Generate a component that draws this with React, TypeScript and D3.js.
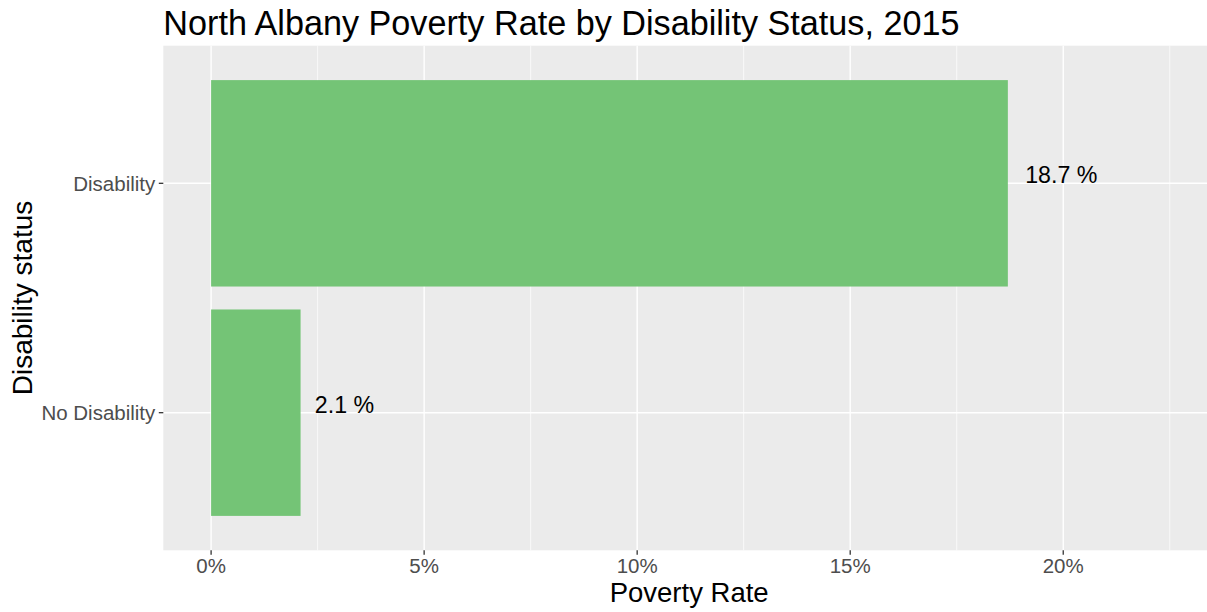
import React, { useEffect, useRef } from 'react';
import * as d3 from 'd3';

const categories = ["Disability", "No Disability"];
const rates = [18.7, 2.1];
const xTicks = [0, 5, 10, 15, 20];
const xMinorTicks = [2.5, 7.5, 12.5, 17.5, 22.5];

const width = 1207;
const height = 612;
const font = "'Liberation Sans', Arial, sans-serif";

const App: React.FC = () => {
  const svgRef = useRef<SVGSVGElement>(null);

  useEffect(() => {
    if (!svgRef.current) return;
    const svg = d3.select(svgRef.current);
    svg.selectAll("*").remove();

    const panel = { left: 163.3, top: 45.7, right: 1215, bottom: 550.3 };

    // ggplot-like: limit = max * 1.2, expanded 5% each side
    const xMax = (d3.max(rates) as number) * 1.2;
    const pad = xMax * 0.05;
    const x = d3.scaleLinear().domain([-pad, xMax + pad]).range([panel.left, panel.right]);

    // discrete axis, expanded by 0.6 units
    const y = d3.scaleLinear()
      .domain([-0.6, categories.length - 1 + 0.6])
      .range([panel.top, panel.bottom]);
    const barHalf = (y(1) - y(0)) * 0.45;

    // panel background
    svg.append("rect")
      .attr("x", panel.left)
      .attr("y", panel.top)
      .attr("width", panel.right - panel.left)
      .attr("height", panel.bottom - panel.top)
      .attr("fill", "#EBEBEB");

    // minor grid
    svg.append("g").selectAll("line")
      .data(xMinorTicks)
      .join("line")
      .attr("x1", d => x(d)).attr("x2", d => x(d))
      .attr("y1", panel.top).attr("y2", panel.bottom)
      .attr("stroke", "#fff").attr("stroke-width", 0.7);

    // major grid
    svg.append("g").selectAll("line")
      .data(xTicks)
      .join("line")
      .attr("x1", d => x(d)).attr("x2", d => x(d))
      .attr("y1", panel.top).attr("y2", panel.bottom)
      .attr("stroke", "#fff").attr("stroke-width", 1.4);

    svg.append("g").selectAll("line")
      .data(categories)
      .join("line")
      .attr("x1", panel.left).attr("x2", panel.right)
      .attr("y1", (_, i) => y(i)).attr("y2", (_, i) => y(i))
      .attr("stroke", "#fff").attr("stroke-width", 1.4);

    // bars
    svg.append("g").selectAll("rect")
      .data(rates)
      .join("rect")
      .attr("x", x(0))
      .attr("y", (_, i) => y(i) - barHalf)
      .attr("width", d => x(d) - x(0))
      .attr("height", barHalf * 2)
      .attr("fill", "#74C476");

    // value labels
    const labels = svg.append("g").selectAll("text")
      .data(rates)
      .join("text")
      .attr("y", (_, i) => y(i))
      .attr("font-family", font)
      .attr("font-size", 23.2)
      .attr("fill", "#000")
      .text(d => `${d.toFixed(1)} %`);
    labels.each(function (d) {
      const w = (this as SVGTextElement).getComputedTextLength();
      d3.select(this).attr("x", x(d) + w * 0.24);
    });

    // x axis ticks and labels
    const xAxis = svg.append("g");
    xAxis.selectAll("line")
      .data(xTicks)
      .join("line")
      .attr("x1", d => x(d)).attr("x2", d => x(d))
      .attr("y1", panel.bottom).attr("y2", panel.bottom + 4.5)
      .attr("stroke", "#333").attr("stroke-width", 1.3);
    xAxis.selectAll("text")
      .data(xTicks)
      .join("text")
      .attr("x", d => x(d))
      .attr("y", 573)
      .attr("text-anchor", "middle")
      .attr("font-family", font)
      .attr("font-size", 20.5)
      .attr("fill", "#4D4D4D")
      .text(d => `${d}%`);

    // y axis ticks and labels
    const yAxis = svg.append("g");
    yAxis.selectAll("line")
      .data(categories)
      .join("line")
      .attr("x1", panel.left - 4.5).attr("x2", panel.left)
      .attr("y1", (_, i) => y(i)).attr("y2", (_, i) => y(i))
      .attr("stroke", "#333").attr("stroke-width", 1.3);
    yAxis.selectAll("text")
      .data(categories)
      .join("text")
      .attr("x", panel.left - 8)
      .attr("y", (_, i) => y(i))
      .attr("dy", "0.36em")
      .attr("text-anchor", "end")
      .attr("font-family", font)
      .attr("font-size", 20.5)
      .attr("fill", "#4D4D4D")
      .text(d => d);

    // axis titles
    svg.append("text")
      .attr("x", (panel.left + panel.right) / 2)
      .attr("y", 602)
      .attr("text-anchor", "middle")
      .attr("font-family", font)
      .attr("font-size", 27.5)
      .attr("fill", "#000")
      .text("Poverty Rate");

    svg.append("text")
      .attr("transform", `translate(32,${(panel.top + panel.bottom) / 2}) rotate(-90)`)
      .attr("text-anchor", "middle")
      .attr("font-family", font)
      .attr("font-size", 28)
      .attr("fill", "#000")
      .text("Disability status");

    // title
    svg.append("text")
      .attr("x", panel.left)
      .attr("y", 35)
      .attr("font-family", font)
      .attr("font-size", 34.2)
      .attr("fill", "#000")
      .text("North Albany Poverty Rate by Disability Status, 2015");
  }, []);

  return (
    <svg
      ref={svgRef}
      width={width}
      height={height}
      style={{ position: 'absolute', left: 0, top: 0, background: '#fff', overflow: 'hidden' }}
    />
  );
};

export default App;
